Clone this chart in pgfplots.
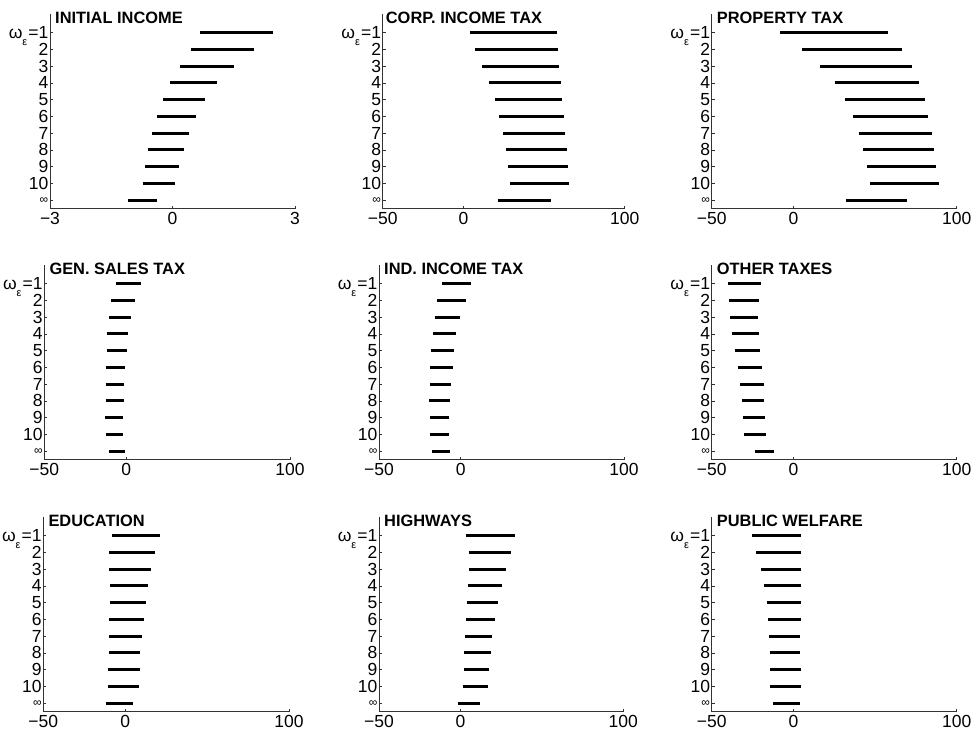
\documentclass[border=0pt]{standalone}
\usepackage{fontspec}
\setmainfont{Liberation Sans}
\usepackage{pgfplots}
\usepackage{pgfplotstable}
\pgfplotsset{compat=1.18}

% Intervals per row: y = 11 is omega_eps = 1, ..., y = 2 is 10, y = 1 is infinity
\pgfplotstableread{
y lo hi
11 0.67 2.47
10 0.45 1.99
9 0.19 1.50
8 -0.06 1.09
7 -0.23 0.79
6 -0.39 0.57
5 -0.50 0.41
4 -0.61 0.27
3 -0.67 0.17
2 -0.73 0.07
1 -1.08 -0.38
}\initialincome

\pgfplotstableread{
y lo hi
11 4.0 58.3
10 7.5 58.8
9 11.7 59.0
8 15.8 60.4
7 19.4 61.0
6 22.1 62.1
5 24.6 63.3
4 26.3 64.0
3 27.7 65.0
2 29.0 65.6
1 21.3 54.2
}\corptax

\pgfplotstableread{
y lo hi
11 -8.0 57.8
10 5.5 66.3
9 16.5 72.7
8 25.3 77.1
7 31.6 80.4
6 36.3 82.7
5 40.0 84.7
4 42.9 86.3
3 45.1 87.3
2 46.9 89.0
1 32.2 69.6
}\propertytax

\pgfplotstableread{
y lo hi
11 -6.5 8.8
10 -9.2 5.1
9 -10.8 3.1
8 -11.6 1.0
7 -12.0 0.2
6 -12.6 -0.8
5 -12.6 -1.6
4 -12.6 -1.6
3 -13.0 -2.2
2 -12.4 -2.2
1 -10.2 -0.6
}\salestax

\pgfplotstableread{
y lo hi
11 -11.4 6.3
10 -14.5 3.1
9 -15.5 -0.2
8 -17.1 -2.7
7 -18.0 -4.1
6 -18.6 -4.9
5 -18.8 -5.7
4 -19.2 -6.3
3 -19.0 -7.1
2 -19.0 -6.9
1 -17.3 -6.5
}\indincometax

\pgfplotstableread{
y lo hi
11 -39.8 -20.0
10 -39.4 -21.2
9 -38.8 -21.6
8 -37.3 -21.2
7 -35.5 -20.4
6 -33.9 -19.4
5 -32.4 -18.2
4 -31.6 -18.2
3 -31.0 -17.6
2 -30.4 -16.7
1 -23.7 -11.8
}\othertaxes

\pgfplotstableread{
y lo hi
11 -8.2 21.4
10 -9.8 18.2
9 -9.8 15.7
8 -9.4 13.9
7 -9.4 12.4
6 -9.6 11.2
5 -10.0 10.0
4 -10.0 9.2
3 -10.2 8.8
2 -10.8 8.2
1 -11.8 4.5
}\education

\pgfplotstableread{
y lo hi
11 3.3 33.3
10 5.1 31.1
9 5.1 28.2
8 4.7 25.4
7 4.3 23.1
6 3.7 21.1
5 2.9 19.6
4 2.2 18.8
3 2.0 17.6
2 1.4 17.2
1 -1.6 12.1
}\highways

\pgfplotstableread{
y lo hi
11 -25.1 4.7
10 -22.7 4.7
9 -19.8 4.7
8 -17.8 4.9
7 -16.1 4.9
6 -15.5 4.9
5 -14.7 4.3
4 -14.5 4.3
3 -14.1 4.7
2 -14.1 4.5
1 -12.4 4.3
}\publicwelfare

% omega with a low-hanging epsilon subscript
\newcommand{\omegalabel}{ω\raisebox{-6.5pt}[0pt][0pt]{\fontsize{11}{11}\selectfont ε}\kern1pt=1}

\tikzset{
  ptitle/.style={anchor=north west, inner sep=0pt,
    font=\bfseries\fontsize{16.4}{16.4}\selectfont},
}

\pgfplotsset{
  panel/.style={
    scale only axis, height=195pt, anchor=north west,
    axis x line*=bottom, axis y line*=left,
    axis line style={line width=0.8pt, black!80},
    ymin=0.5, ymax=12.15,
    ytick={1,...,11},
    yticklabels={{\fontsize{12}{12}\selectfont ∞},10,9,8,7,6,5,4,3,2,{\omegalabel}},
    tick align=inside, major tick length=3pt,
    tick style={line width=0.6pt, black!80},
    ticklabel style={font=\fontsize{17.5}{17.5}\selectfont},
    yticklabel style={inner xsep=1.5pt},
    clip=false,
  },
  money/.style={xmin=-50, xmax=100, xtick={-50,0,100}, xticklabels={−50,0,100}},
  interval/.style={draw=none, mark=none,
    error bars/.cd, x dir=plus, x explicit, error mark=none,
    error bar style={line width=3pt, black}},
}

\newcommand{\panelplot}[1]{%
  \addplot[interval] table[x=lo, y=y, x error expr=\thisrow{hi}-\thisrow{lo}] {#1};}

\begin{document}
\begin{tikzpicture}
\useasboundingbox (0pt,0pt) rectangle (976pt,-736pt);

% ---- first row ----
\begin{axis}[panel, at={(50pt,-13.5pt)}, width=245pt,
    xmin=-3, xmax=3, xtick={-3,0,3}, xticklabels={−3,0,3}]
  \panelplot{\initialincome}
  \node[ptitle] at ([xshift=5pt,yshift=1.8pt]rel axis cs:0,1) {INITIAL INCOME};
\end{axis}

\begin{axis}[panel, money, at={(382.7pt,-13.5pt)}, width=242pt]
  \panelplot{\corptax}
  \node[ptitle] at ([xshift=3pt,yshift=1.8pt]rel axis cs:0,1) {CORP. INCOME TAX};
\end{axis}

\begin{axis}[panel, money, at={(711.7pt,-13.5pt)}, width=245pt]
  \panelplot{\propertytax}
  \node[ptitle] at ([xshift=5pt,yshift=1.8pt]rel axis cs:0,1) {PROPERTY TAX};
\end{axis}

% ---- second row ----
\begin{axis}[panel, money, at={(44.3pt,-264.5pt)}, width=245.7pt]
  \panelplot{\salestax}
  \node[ptitle] at ([xshift=5pt,yshift=1.8pt]rel axis cs:0,1) {GEN. SALES TAX};
\end{axis}

\begin{axis}[panel, money, at={(379pt,-264.5pt)}, width=245pt]
  \panelplot{\indincometax}
  \node[ptitle] at ([xshift=5pt,yshift=1.8pt]rel axis cs:0,1) {IND. INCOME TAX};
\end{axis}

\begin{axis}[panel, money, at={(711.7pt,-264.5pt)}, width=245pt]
  \panelplot{\othertaxes}
  \node[ptitle] at ([xshift=5pt,yshift=1.8pt]rel axis cs:0,1) {OTHER TAXES};
\end{axis}

% ---- third row ----
\begin{axis}[panel, money, at={(43.3pt,-516.5pt)}, width=245.7pt]
  \panelplot{\education}
  \node[ptitle] at ([xshift=5pt,yshift=1.8pt]rel axis cs:0,1) {EDUCATION};
\end{axis}

\begin{axis}[panel, money, at={(379pt,-516.5pt)}, width=244.3pt]
  \panelplot{\highways}
  \node[ptitle] at ([xshift=5pt,yshift=1.8pt]rel axis cs:0,1) {HIGHWAYS};
\end{axis}

\begin{axis}[panel, money, at={(711.7pt,-516.5pt)}, width=245pt]
  \panelplot{\publicwelfare}
  \node[ptitle] at ([xshift=5pt,yshift=1.8pt]rel axis cs:0,1) {PUBLIC WELFARE};
\end{axis}
\end{tikzpicture}
\end{document}
